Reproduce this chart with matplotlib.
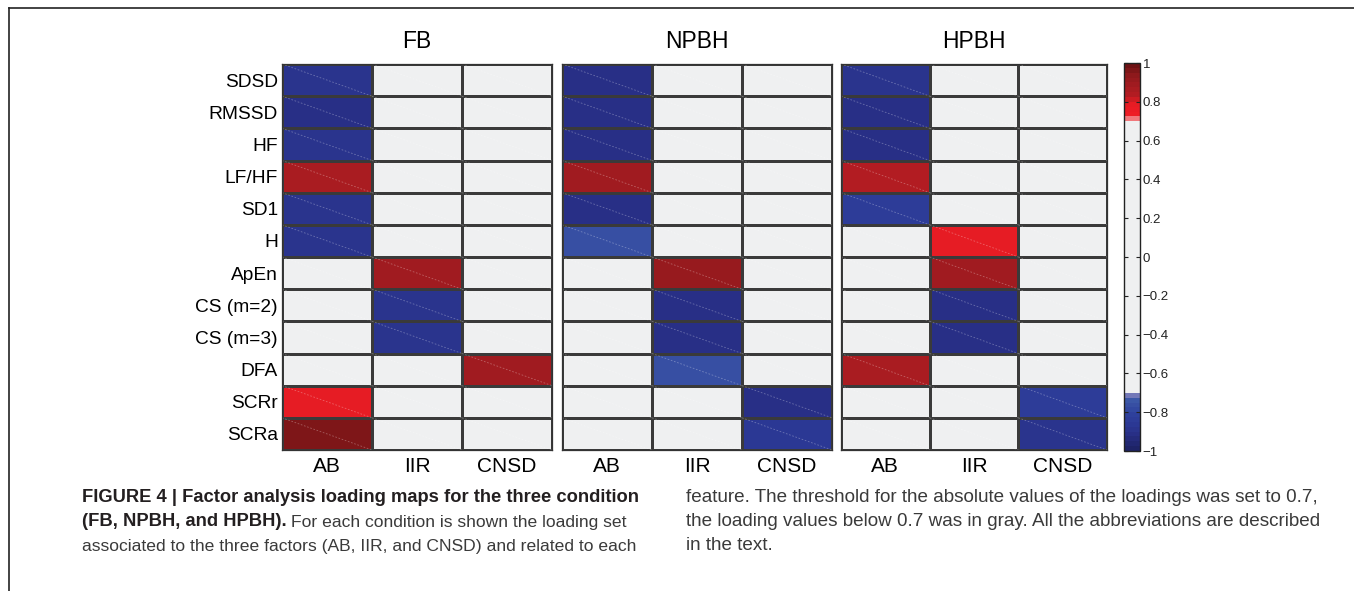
import numpy as np
import matplotlib
matplotlib.use("Agg")
import matplotlib.pyplot as plt
from matplotlib.colors import ListedColormap, BoundaryNorm, to_rgb
from matplotlib.lines import Line2D

plt.rcParams['font.family'] = ['Liberation Sans', 'DejaVu Sans']

features = ['SDSD', 'RMSSD', 'HF', 'LF/HF', 'SD1', 'H', 'ApEn',
            'CS (m=2)', 'CS (m=3)', 'DFA', 'SCRr', 'SCRa']
factors = ['AB', 'IIR', 'CNSD']
conditions = ['FB', 'NPBH', 'HPBH']

# loadings per condition, per factor (order of features above)
fb_ab   = [-0.88, -0.92, -0.88, 0.87, -0.88, -0.88, 0.20, 0.10, 0.10, 0.15, 0.78, 0.96]
fb_iir  = [0.10, 0.10, 0.05, 0.10, 0.10, 0.20, 0.88, -0.90, -0.90, 0.20, 0.10, 0.10]
fb_cnsd = [0.05, 0.05, 0.10, 0.10, 0.05, 0.20, 0.10, 0.10, 0.10, 0.88, 0.20, 0.10]

npbh_ab   = [-0.92, -0.92, -0.92, 0.90, -0.92, -0.77, 0.10, 0.10, 0.10, 0.20, 0.10, 0.10]
npbh_iir  = [0.10, 0.10, 0.10, 0.10, 0.10, 0.30, 0.92, -0.92, -0.92, -0.77, 0.10, 0.10]
npbh_cnsd = [0.05, 0.05, 0.05, 0.10, 0.05, 0.10, 0.10, 0.10, 0.10, 0.20, -0.92, -0.87]

hpbh_ab   = [-0.88, -0.92, -0.92, 0.83, -0.85, 0.30, 0.10, 0.10, 0.10, 0.87, 0.10, 0.10]
hpbh_iir  = [0.10, 0.10, 0.10, 0.10, 0.10, 0.78, 0.88, -0.92, -0.92, 0.20, 0.10, 0.10]
hpbh_cnsd = [0.05, 0.05, 0.05, 0.10, 0.05, 0.10, 0.10, 0.10, 0.10, 0.20, -0.85, -0.88]

cond_data = {
    'FB': [fb_ab, fb_iir, fb_cnsd],
    'NPBH': [npbh_ab, npbh_iir, npbh_cnsd],
    'HPBH': [hpbh_ab, hpbh_iir, hpbh_cnsd],
}

cbar_ticks = [-1, -0.8, -0.6, -0.4, -0.2, 0, 0.2, 0.4, 0.6, 0.8, 1]
cbar_labels = ['\u22121', '\u22120.8', '\u22120.6', '\u22120.4', '\u22120.2', '0',
               '0.2', '0.4', '0.6', '0.8', '1']

# ---- discrete colormap, 80 bins of 0.025, gray for |v| < 0.7 ----
def interp_colors(anchors, ks):
    kk = [a[0] for a in anchors]
    cols = np.array([to_rgb(a[1]) for a in anchors])
    return [tuple(np.interp(k, kk, cols[:, c]) for c in range(3)) for k in ks]

gray = to_rgb('#eff0f1')
blue_anchors = [(0, '#1e2366'), (3, '#282f86'), (5, '#2b3894'), (7, '#2e409c'), (10, '#3b57a7')]
red_anchors = [(69, '#ee1d25'), (71, '#e61c24'), (73, '#b21c22'), (75, '#a01b20'),
               (77, '#8e191c'), (79, '#6e1214')]
colors = []
colors += interp_colors(blue_anchors, range(0, 11))
colors.append(to_rgb('#7378b8'))
colors += [gray] * 56
colors.append(to_rgb('#f1787c'))
colors += interp_colors(red_anchors, range(69, 80))
cmap = ListedColormap(colors)
norm = BoundaryNorm(np.linspace(-1, 1, 81), 80)

W, H = 1354, 591
fig = plt.figure(figsize=(W / 100, H / 100), dpi=100)

def fax(l, t, r, b):
    return fig.add_axes([l / W, 1 - b / H, (r - l) / W, (b - t) / H])

ax_px = [(282, 64, 552, 450), (562, 64, 832, 450), (841, 64, 1107, 450)]

im = None
for ci, cond in enumerate(conditions):
    l, t, r, b = ax_px[ci]
    ax = fax(l, t, r, b)
    M = np.array(cond_data[cond]).T  # rows = features, cols = factors
    nr, nc = M.shape
    im = ax.pcolormesh(np.arange(nc + 1), np.arange(nr + 1), M, cmap=cmap, norm=norm,
                       edgecolors='#3a3a3a', linewidth=0.8)
    ax.set_xlim(0, nc)
    ax.set_ylim(nr, 0)
    for i in range(nr):
        for j in range(nc):
            ax.plot([j, j + 1], [i, i + 1], color='white', alpha=0.3, lw=0.6,
                    dashes=(2, 2), solid_capstyle='butt')
    ax.set_xticks(np.arange(nc) + 0.5)
    ax.set_xticklabels(factors, fontsize=15)
    ax.tick_params(axis='x', length=0, pad=5)
    if ci == 0:
        ax.set_yticks(np.arange(nr) + 0.5)
        ax.set_yticklabels(features, fontsize=13.8)
        ax.tick_params(axis='y', length=0, pad=3)
    else:
        ax.set_yticks([])
    for s in ax.spines.values():
        s.set_color('#333333')
        s.set_linewidth(0.9)
    fig.text(((l + r) / 2) / W, 1 - 41 / H, cond, ha='center', va='center', fontsize=16.5)

cax = fax(1124, 63, 1140, 451)
cb = fig.colorbar(im, cax=cax, ticks=cbar_ticks)
cb.ax.minorticks_off()
cb.ax.set_yticks(cbar_ticks)
cb.ax.set_yticklabels(cbar_labels)
cb.ax.tick_params(which='major', direction='in', length=3, width=0.8, left=True, right=True,
                  labelsize=9.5, pad=2, colors='#222222')
cb.ax.tick_params(which='minor', length=0)
cb.outline.set_linewidth(1.0)
cb.outline.set_edgecolor('#222222')

# frame lines
fig.add_artist(Line2D([9 / W, 1], [1 - 8 / H, 1 - 8 / H], color='#222222', lw=1.2,
                      transform=fig.transFigure))
fig.add_artist(Line2D([9 / W, 9 / W], [1 - 8 / H, 0], color='#222222', lw=1.2,
                      transform=fig.transFigure))

# caption
cap_fam = ['Liberation Sans']
fs_b = 13.2
fs_r = 12.6
bold_c = '#231f20'
reg_c = '#3a3a3a'
y1, y2, y3 = 1 - 498 / H, 1 - 522 / H, 1 - 546 / H
x0 = 82 / W
fig.text(x0, y1, 'FIGURE 4 | Factor analysis loading maps for the three condition',
         fontsize=fs_b, fontweight='bold', family=cap_fam, color=bold_c, va='center')
tb = fig.text(x0, y2, '(FB, NPBH, and HPBH).', fontsize=fs_b, fontweight='bold',
              family=cap_fam, color=bold_c, va='center')
fig.canvas.draw()
bb = tb.get_window_extent(renderer=fig.canvas.get_renderer())
fig.text(bb.x1 / W + 4 / W, y2, 'For each condition is shown the loading set',
         fontsize=fs_r, family=cap_fam, color=reg_c, va='center')
fig.text(x0, y3, 'associated to the three factors (AB, IIR, and CNSD) and related to each',
         fontsize=fs_r, family=cap_fam, color=reg_c, va='center')
x1 = 686 / W
fs_r2 = 13.6
fig.text(x1, y1, 'feature. The threshold for the absolute values of the loadings was set to 0.7,',
         fontsize=fs_r2, family=cap_fam, color=reg_c, va='center')
fig.text(x1, y2, 'the loading values below 0.7 was in gray. All the abbreviations are described',
         fontsize=fs_r2, family=cap_fam, color=reg_c, va='center')
fig.text(x1, y3, 'in the text.', fontsize=fs_r2, family=cap_fam, color=reg_c, va='center')

fig.savefig('out.png', dpi=100)
